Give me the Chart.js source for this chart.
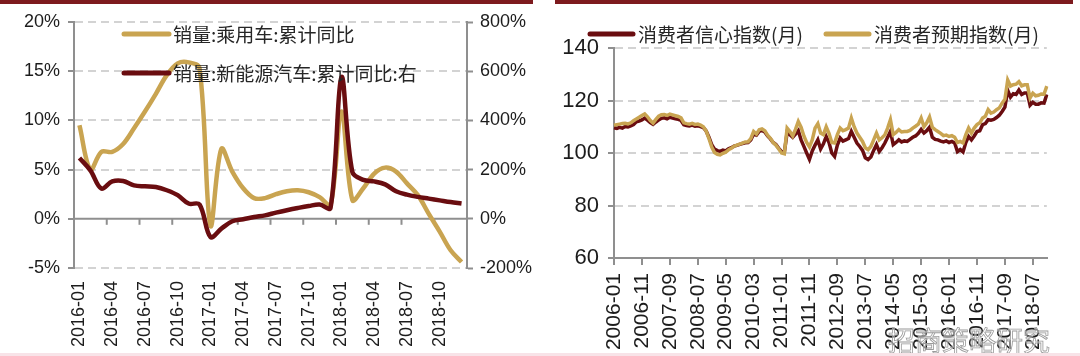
<!DOCTYPE html>
<html><head><meta charset="utf-8">
<script src="https://cdn.jsdelivr.net/npm/chart.js@4.4.1/dist/chart.umd.min.js"></script>
<style>
html,body{margin:0;padding:0;background:#fff;width:1080px;height:356px;overflow:hidden;position:relative;font-family:'Liberation Sans',Arial,sans-serif}
.box{position:absolute;top:0;width:540px;height:356px}
#L{left:0}#R{left:540px}
.rule{position:absolute;top:0;height:4px;background:#7d1a1e}
.wm{position:absolute;left:888px;top:320px;font:27px 'Noto Sans CJK SC';color:rgba(255,255,255,0.45);-webkit-text-stroke:0.8px #9a9a9a;white-space:nowrap}
.strip{position:absolute;left:0;top:353px;width:1080px;height:3px;background:#f8e3e8}
</style></head><body>
<div class="box" id="L"><canvas id="c1" width="540" height="356"></canvas></div>
<div class="box" id="R"><canvas id="c2" width="540" height="356"></canvas></div>
<div class="rule" style="left:0;width:533px"></div>
<div class="rule" style="left:555px;width:518px"></div>
<div class="wm">招商策略研究</div>
<div class="strip"></div>
<script>
// ---------- Left chart data ----------
const leftMonths = [
  '2016-01','2016-02','2016-03','2016-04','2016-05','2016-06','2016-07','2016-08','2016-09','2016-10','2016-11','2016-12',
  '2017-01','2017-02','2017-03','2017-04','2017-05','2017-06','2017-07','2017-08','2017-09','2017-10','2017-11','2017-12',
  '2018-01','2018-02','2018-03','2018-04','2018-05','2018-06','2018-07','2018-08','2018-09','2018-10','2018-11','2018-12'
];
const carYoY = [9.5, 5.0, 6.8, 6.8, 7.6, 9.2, 10.9, 12.7, 14.6, 15.8, 15.9, 15.3,
  -0.7, 7.1, 4.8, 3.1, 2.1, 2.1, 2.5, 2.8, 2.9, 2.7, 2.2, 1.4,
  10.9, 1.9, 3.1, 4.6, 5.2, 4.8, 3.6, 2.4, 0.5, -1.3, -3.2, -4.4];
const nevYoY = [247, 197, 123, 152, 154, 136, 132, 129, 116, 96, 62, 58,
  -74, -40, -10, -2, 7, 14, 25, 35, 44, 52, 58, 44,
  576, 190, 158, 152, 140, 112, 98, 89, 82, 75, 68, 62];
const leftAxisTicks = [-5, 0, 5, 10, 15, 20];
const rightAxisTicks = [-200, 0, 200, 400, 600, 800];
const leftLabels = ['销量:乘用车:累计同比', '销量:新能源汽车:累计同比:右'];

// ---------- Right chart data ----------
const idxYears = [2006,2007,2008,2009,2010,2011,2012,2013,2014,2015,2016,2017,2018];
const idxMonths = [];
idxYears.forEach(y => { for (let m = 1; m <= 12; m++) idxMonths.push(y + '-' + (m < 10 ? '0' + m : m)); });
const confidence = [
  109.6,109.4,109.8,109.5,110.1,109.9,110.3,110.8,111.9,112.2,112.6,113.3,
  112.5,111.6,110.9,111.8,112.6,113.2,113.4,113.0,113.6,113.3,113.0,112.8,
  112.4,110.8,110.5,110.3,110.6,110.2,110.4,110.1,109.7,108.4,106.0,103.2,
  101.5,100.9,100.6,101.1,100.8,101.6,102.0,102.6,102.9,103.3,103.6,103.9,
  104.0,105.0,107.2,106.8,108.2,108.6,108.0,106.5,105.4,104.0,103.2,101.8,
  100.5,100.2,107.8,107.0,106.0,107.2,108.5,105.0,102.5,100.0,97.6,100.8,
  103.0,105.0,101.5,103.5,106.3,104.0,100.0,98.7,103.0,105.7,104.5,105.0,
  105.5,108.2,106.0,103.8,102.5,101.0,98.2,97.5,98.5,101.0,103.2,100.6,
  102.0,103.8,106.0,108.2,103.2,104.0,105.0,104.2,104.6,104.4,105.2,106.0,
  106.5,107.5,109.0,107.6,108.5,109.8,106.0,105.2,105.0,104.5,104.2,104.6,
  104.0,104.4,103.8,100.5,101.3,100.4,104.0,106.3,105.0,106.5,108.2,108.5,
  110.8,111.2,112.7,112.5,112.8,113.5,114.4,115.8,117.5,123.9,121.3,122.6,
  122.3,124.0,122.3,122.9,122.9,118.2,119.3,118.6,118.6,119.1,119.0,122.3];
const expectation = [
  110.6,110.8,111.0,111.2,111.3,111.1,111.5,112.3,113.0,113.6,114.3,114.9,
  113.8,112.4,111.4,112.8,114.0,114.6,114.7,114.3,114.8,114.5,114.2,113.9,
  113.4,111.5,111.2,111.0,111.3,110.9,111.0,110.6,110.0,108.4,105.5,102.3,
  100.2,99.5,99.3,99.9,100.3,101.2,101.8,102.6,103.0,103.4,103.8,104.2,
  104.3,105.5,108.2,107.2,108.9,109.2,108.5,106.8,105.6,104.0,103.0,101.5,
  100.0,99.7,109.5,108.2,106.5,109.0,112.0,109.8,106.5,104.0,102.3,105.0,
  109.5,111.2,107.6,107.0,110.0,107.5,104.0,103.8,107.0,109.5,108.5,108.9,
  109.5,113.3,110.0,107.6,106.0,104.4,102.0,101.3,102.5,105.0,107.6,105.0,
  105.8,106.9,109.5,112.7,107.0,107.8,108.9,108.0,108.2,108.2,108.6,109.5,
  110.2,111.0,113.3,110.0,111.5,113.7,109.8,108.9,108.2,107.5,106.6,106.8,
  106.3,106.6,106.0,104.0,104.4,103.8,107.0,109.5,107.6,109.5,110.8,111.5,
  113.3,114.0,116.5,115.2,115.6,116.5,117.2,119.0,120.5,127.8,125.5,126.0,
  126.2,127.2,125.6,126.0,126.0,121.0,122.8,121.8,122.0,122.5,122.4,125.5];
const idxAxisTicks = [60, 80, 100, 120, 140];
const rightLabels = ['消费者信心指数(月)', '消费者预期指数(月)'];

// ---------- styles ----------
const GOLD = '#c9a451';
const DARK = '#6a0d10';
const AXIS = '#8f8f8f';
const GRID = '#d3d3d3';
const TXT = '#1c1c1c';
const SANS = "'Liberation Sans', Arial, sans-serif";

function makeLegend(cfg) {
  return {
    id: 'lineLegend',
    afterDatasetsDraw(chart) {
      const ctx = chart.ctx;
      ctx.save();
      ctx.font = cfg.font;
      ctx.textBaseline = 'middle';
      ctx.textAlign = 'left';
      cfg.items.forEach(it => {
        const ds = chart.data.datasets[it.dataset];
        ctx.strokeStyle = ds.borderColor;
        ctx.lineWidth = cfg.lineWidth;
        ctx.lineCap = 'round';
        ctx.beginPath();
        ctx.moveTo(it.x, it.y);
        ctx.lineTo(it.x + cfg.lineLength, it.y);
        ctx.stroke();
        ctx.fillStyle = cfg.color;
        ctx.fillText(ds.label, it.x + cfg.lineLength + cfg.gap, it.y + 1);
      });
      ctx.restore();
    }
  };
}

const zeroAxis = {
  id: 'zeroAxis',
  beforeDatasetsDraw(chart) {
    const {ctx, chartArea, scales: {x, y}} = chart;
    const y0 = y.getPixelForValue(0);
    ctx.save();
    ctx.strokeStyle = AXIS;
    ctx.lineWidth = 2;
    ctx.beginPath();
    ctx.moveTo(chartArea.left, y0);
    ctx.lineTo(chartArea.right, y0);
    ctx.stroke();
    for (let i = 3; i < leftMonths.length; i += 3) {
      const xb = (x.getPixelForValue(i - 1) + x.getPixelForValue(i)) / 2;
      ctx.beginPath();
      ctx.moveTo(xb, y0);
      ctx.lineTo(xb, y0 + 6);
      ctx.stroke();
    }
    ctx.restore();
  }
};

// ---------- Left chart ----------
new Chart(document.getElementById('c1'), {
  type: 'line',
  data: {
    labels: leftMonths,
    datasets: [
      {label: leftLabels[0], data: carYoY, yAxisID: 'y', borderColor: GOLD, backgroundColor: GOLD,
       borderWidth: 4.5, tension: 0.35, pointRadius: 0, order: 1},
      {label: leftLabels[1], data: nevYoY, yAxisID: 'y1', borderColor: DARK, backgroundColor: DARK,
       borderWidth: 4.5, tension: 0.35, pointRadius: 0, order: 0}
    ]
  },
  options: {
    responsive: false, animation: false, devicePixelRatio: 1,
    layout: {padding: {top: 22, left: 0, right: 0, bottom: 0}},
    plugins: {legend: {display: false}, tooltip: {enabled: false}},
    scales: {
      x: {
        offset: true,
        grid: {display: false, drawTicks: false},
        border: {display: false},
        ticks: {autoSkip: false, minRotation: 90, maxRotation: 90, padding: 13, color: TXT,
          font: {family: SANS, size: 18},
          callback: (v, i) => (i % 3 === 0 ? leftMonths[i] : '')},
        afterFit: s => { s.height = 88; }
      },
      y: {
        position: 'left',
        min: leftAxisTicks[0], max: leftAxisTicks[leftAxisTicks.length - 1],
        afterBuildTicks: s => { s.ticks = leftAxisTicks.map(v => ({value: v})); },
        grid: {color: c => (c.tick && c.tick.value === 0 ? 'rgba(0,0,0,0)' : GRID), lineWidth: 2,
          drawTicks: true, tickLength: 6, tickColor: AXIS, tickWidth: 2},
        border: {display: true, color: AXIS, width: 2, dash: [8, 5]},
        ticks: {padding: 8, color: TXT, font: {family: SANS, size: 18}, callback: v => v + '%'},
        afterFit: s => { s.width = 74; }
      },
      y1: {
        position: 'right',
        min: rightAxisTicks[0], max: rightAxisTicks[rightAxisTicks.length - 1],
        afterBuildTicks: s => { s.ticks = rightAxisTicks.map(v => ({value: v})); },
        grid: {drawOnChartArea: false, drawTicks: true, tickLength: 6, tickColor: AXIS, tickWidth: 2, color: AXIS},
        border: {display: true, color: AXIS, width: 2},
        ticks: {padding: 7, color: TXT, font: {family: SANS, size: 18}, callback: v => v + '%'},
        afterFit: s => { s.width = 73; }
      }
    }
  },
  plugins: [zeroAxis, makeLegend({
    font: "19px 'Noto Sans CJK SC', sans-serif", color: '#262626',
    lineLength: 45, lineWidth: 5, gap: 4,
    items: [{dataset: 0, x: 124, y: 34}, {dataset: 1, x: 124, y: 73}]
  })]
});

// ---------- Right chart ----------
new Chart(document.getElementById('c2'), {
  type: 'line',
  data: {
    labels: idxMonths,
    datasets: [
      {label: rightLabels[0], data: confidence, borderColor: DARK, backgroundColor: DARK,
       borderWidth: 3.5, tension: 0, pointRadius: 0, order: 1},
      {label: rightLabels[1], data: expectation, borderColor: GOLD, backgroundColor: GOLD,
       borderWidth: 3.5, tension: 0, pointRadius: 0, order: 0}
    ]
  },
  options: {
    responsive: false, animation: false, devicePixelRatio: 1,
    layout: {padding: {top: 48, left: 0, right: 25, bottom: 0}},
    plugins: {legend: {display: false}, tooltip: {enabled: false}},
    scales: {
      x: {
        offset: false,
        grid: {display: true, drawOnChartArea: false, drawTicks: true, tickLength: 7, lineWidth: 2,
          color: AXIS, tickColor: c => (c.index % 10 === 0 ? AXIS : 'rgba(0,0,0,0)')},
        border: {display: true, color: AXIS, width: 2},
        ticks: {autoSkip: false, minRotation: 90, maxRotation: 90, padding: 8, color: TXT,
          font: {family: SANS, size: 21},
          callback: (v, i) => (i % 10 === 0 ? idxMonths[i] : '')},
        afterFit: s => { s.height = 98; }
      },
      y: {
        min: idxAxisTicks[0], max: idxAxisTicks[idxAxisTicks.length - 1],
        afterBuildTicks: s => { s.ticks = idxAxisTicks.map(v => ({value: v})); },
        grid: {color: c => (c.tick && c.tick.value === 60 ? 'rgba(0,0,0,0)' : GRID), lineWidth: 2,
          drawTicks: true, tickLength: 6, tickColor: AXIS, tickWidth: 2},
        border: {display: true, color: AXIS, width: 2, dash: [8, 5]},
        ticks: {padding: 9, color: TXT, font: {family: "'Liberation Sans Narrow', 'Arial Narrow', 'Liberation Sans', Arial, sans-serif", size: 22}},
        afterFit: s => { s.width = 74; }
      }
    }
  },
  plugins: [makeLegend({
    font: "19px 'Noto Sans CJK SC', sans-serif", color: '#262626',
    lineLength: 43, lineWidth: 5, gap: 5,
    items: [{dataset: 0, x: 50, y: 34}, {dataset: 1, x: 286, y: 34}]
  })]
});
</script>
</body></html>
